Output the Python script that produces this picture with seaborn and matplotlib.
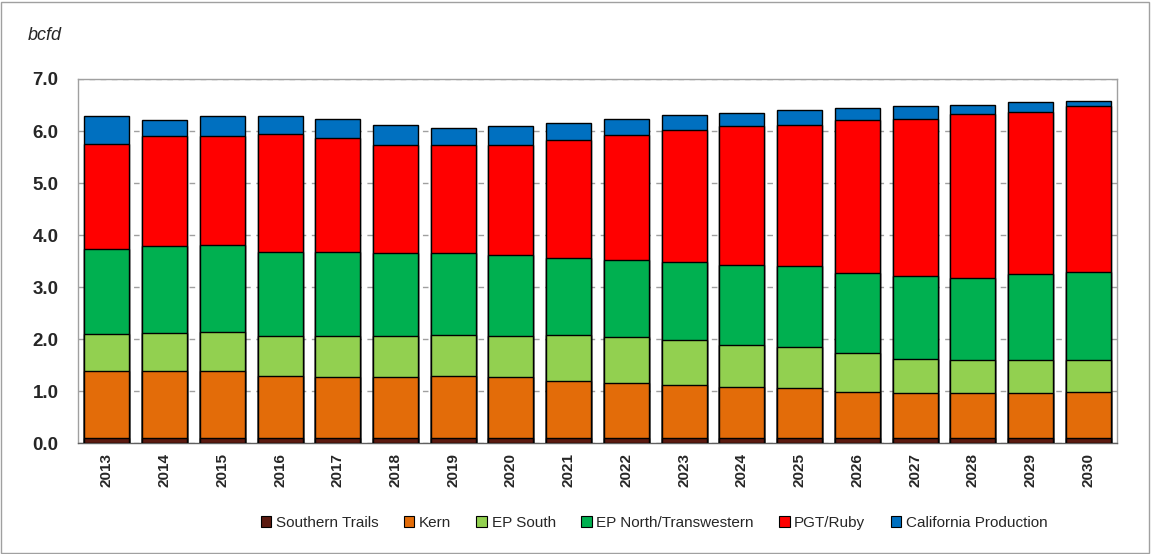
import numpy as np
import pandas as pd
import matplotlib
matplotlib.use('Agg')
import matplotlib.pyplot as plt
import seaborn as sns
from matplotlib.patches import Rectangle, Patch

years = [str(y) for y in range(2013, 2031)]

# segment values (bcfd)
southern_trails = [0.10] * 18
kern = [1.29, 1.30, 1.29, 1.19, 1.17, 1.17, 1.19, 1.17, 1.10, 1.07, 1.03, 0.98, 0.96, 0.88, 0.86, 0.86, 0.86, 0.89]
ep_south = [0.71, 0.73, 0.76, 0.77, 0.79, 0.79, 0.79, 0.80, 0.89, 0.87, 0.86, 0.82, 0.79, 0.75, 0.66, 0.64, 0.64, 0.61]
ep_north = [1.63, 1.66, 1.66, 1.62, 1.62, 1.60, 1.58, 1.54, 1.47, 1.49, 1.49, 1.52, 1.55, 1.55, 1.59, 1.58, 1.65, 1.70]
pgt_ruby = [2.02, 2.12, 2.10, 2.26, 2.18, 2.07, 2.07, 2.13, 2.27, 2.39, 2.54, 2.67, 2.71, 2.93, 3.03, 3.14, 3.12, 3.18]
cal_prod = [0.54, 0.31, 0.38, 0.35, 0.38, 0.39, 0.32, 0.36, 0.33, 0.31, 0.29, 0.26, 0.29, 0.24, 0.24, 0.18, 0.18, 0.10]

names = ['Southern Trails', 'Kern', 'EP South', 'EP North/Transwestern', 'PGT/Ruby', 'California Production']
colors = ['#5B1A10', '#E36C09', '#92D050', '#00B050', '#FF0000', '#0070C0']
series = [southern_trails, kern, ep_south, ep_north, pgt_ruby, cal_prod]

df = pd.DataFrame(dict(zip(names, series)), index=years)
cum = df.cumsum(axis=1)

sns.set_style('white')
plt.rcParams['font.family'] = ['Liberation Sans', 'DejaVu Sans']

fig = plt.figure(figsize=(11.51, 5.54), dpi=100)
ax = fig.add_axes([0.0678, 0.1995, 0.9027, 0.658])

# draw cumulative bars from the top down so each shorter one covers the one behind
for name, col in reversed(list(zip(names, colors))):
    sns.barplot(x=years, y=cum[name].values, color=col, edgecolor='black',
                linewidth=1.0, width=0.78, saturation=1, ax=ax, zorder=3)

ax.set_xlim(-0.5, len(years) - 0.5)
ax.set_ylim(0, 7)
ax.set_yticks(np.arange(0, 7.01, 1.0))
ax.set_yticklabels([f'{v:.1f}' for v in np.arange(0, 7.01, 1.0)], fontsize=13.5, fontweight='bold')
ax.set_xticklabels(years, rotation=90, fontsize=11, fontweight='bold')
ax.tick_params(axis='x', which='major', length=0, pad=7)
ax.set_xticks(np.arange(-0.5, len(years), 1.0), minor=True)
ax.tick_params(axis='x', which='minor', length=6, color='#808080', width=1)
ax.tick_params(axis='y', length=4, color='#808080', width=1, pad=10)
ax.yaxis.grid(True, linestyle=(0, (4, 4)), color='#A0A0A0', linewidth=1, zorder=0)
ax.set_axisbelow(True)
for s in ax.spines.values():
    s.set_color('#A0A0A0')
    s.set_linewidth(1)
ax.spines['bottom'].set_color('#606060')
ax.set_xlabel('')
ax.set_ylabel('')

fig.text(28 / 1151, 1 - 35 / 554, 'bcfd', fontsize=13, style='italic', va='center', ha='left')

handles = [Patch(facecolor=c, edgecolor='black', linewidth=0.8) for c in colors]
fig.legend(handles, names, loc='center', bbox_to_anchor=(654 / 1151, 1 - 523 / 554),
           ncol=6, frameon=False, fontsize=11, handlelength=0.7, handleheight=0.7,
           handletextpad=0.3, columnspacing=1.65)

fig.patches.append(Rectangle((0.001, 0.002), 0.997, 0.995, transform=fig.transFigure,
                             fill=False, edgecolor='#A0A0A0', linewidth=1))

fig.savefig('out.png', dpi=100)
